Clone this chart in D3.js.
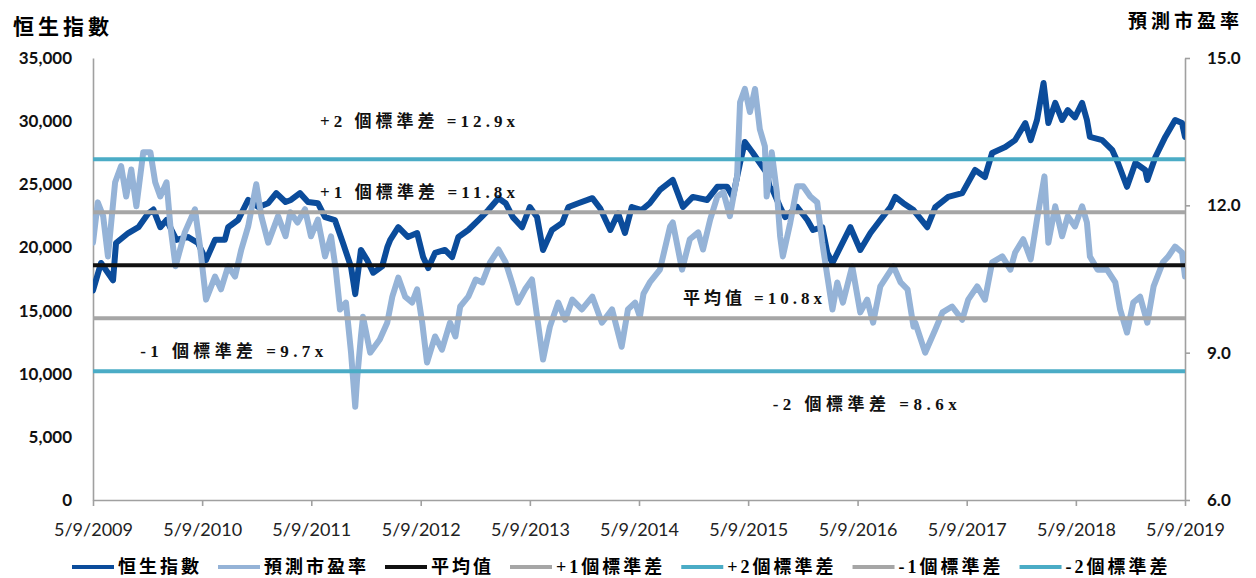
<!DOCTYPE html>
<html>
<head>
<meta charset="utf-8">
<script src="https://cdn.jsdelivr.net/npm/d3@7"></script>
<style>
  body { margin: 0; background: #fff; }
  svg { display: block; }
</style>
</head>
<body>
<svg id="chart"></svg>
<script>
// ---- data ----
var hsiSeries = [
  ["2009-05-09",16600],["2009-06-05",18770],["2009-07-15",17400],["2009-07-25",20350],
  ["2009-09-04",21140],["2009-10-08",21600],["2009-11-10",22700],["2009-11-27",23000],
  ["2009-12-20",21600],["2010-01-10",22170],["2010-02-12",20600],["2010-03-22",20830],
  ["2010-04-25",20350],["2010-05-22",19000],["2010-06-21",20600],["2010-07-24",20600],
  ["2010-08-04",21600],["2010-09-06",22170],["2010-10-10",23760],["2010-11-13",23200],
  ["2010-12-16",23500],["2011-01-12",24300],["2011-02-12",23600],["2011-03-02",23760],
  ["2011-04-01",24300],["2011-04-28",23600],["2011-05-31",23500],["2011-06-24",22400],
  ["2011-07-27",22170],["2011-08-23",20350],["2011-09-19",18450],["2011-10-03",16300],
  ["2011-10-22",19800],["2011-11-12",19000],["2011-12-02",18000],["2012-01-01",18500],
  ["2012-01-18",20000],["2012-01-28",20600],["2012-02-24",21600],["2012-03-27",20830],
  ["2012-04-27",21140],["2012-05-17",19240],["2012-06-03",18370],["2012-06-26",19560],
  ["2012-07-29",19800],["2012-08-22",19240],["2012-09-12",20830],["2012-10-15",21380],
  ["2012-11-18",22170],["2012-12-21",22960],["2013-01-24",23900],["2013-02-17",23500],
  ["2013-03-13",22400],["2013-04-13",21600],["2013-05-09",23200],["2013-06-02",22400],
  ["2013-06-22",19800],["2013-07-22",21380],["2013-08-25",21930],["2013-09-15",23200],
  ["2013-10-18",23500],["2013-12-04",23900],["2013-12-30",23100],["2014-02-02",21380],
  ["2014-02-28",22700],["2014-03-23",21140],["2014-04-15",23200],["2014-05-18",22960],
  ["2014-06-14",23500],["2014-07-18",24550],["2014-08-30",25340],["2014-10-03",23200],
  ["2014-11-05",24000],["2014-12-23",23760],["2015-01-26",24800],["2015-02-28",24800],
  ["2015-03-19",24000],["2015-04-12",26690],["2015-04-28",28350],["2015-05-25",27480],
  ["2015-06-17",26690],["2015-07-10",25900],["2015-07-20",24800],["2015-07-30",24550],
  ["2015-08-24",23200],["2015-09-10",22400],["2015-10-20",23200],["2015-11-23",22170],
  ["2015-12-12",21380],["2016-01-12",21600],["2016-01-29",19560],["2016-02-15",18770],
  ["2016-03-12",20000],["2016-04-15",21600],["2016-05-18",19800],["2016-06-21",21140],
  ["2016-07-24",22170],["2016-08-27",23200],["2016-09-12",24000],["2016-10-09",23500],
  ["2016-11-12",22960],["2016-12-28",21600],["2017-01-24",23200],["2017-03-08",24000],
  ["2017-04-24",24300],["2017-06-06",26130],["2017-07-09",25580],["2017-08-02",27480],
  ["2017-09-15",27950],["2017-10-18",28500],["2017-11-21",29850],["2017-12-09",28500],
  ["2017-12-30",30090],["2018-01-21",33020],["2018-02-06",29850],["2018-03-01",31440],
  ["2018-03-24",30090],["2018-04-12",30880],["2018-05-06",30300],["2018-05-30",31440],
  ["2018-06-15",30090],["2018-06-25",28750],["2018-08-05",28500],["2018-09-08",27700],
  ["2018-09-27",26690],["2018-10-27",24800],["2018-11-24",26690],["2018-12-27",26130],
  ["2019-01-03",25340],["2019-01-30",27160],["2019-03-04",28750],["2019-04-06",30090],
  ["2019-04-29",29850],["2019-05-09",28750]
];

var peSeries = [
  ["2009-05-09",11.24],["2009-05-25",12.06],["2009-06-12",11.78],["2009-06-28",10.96],
  ["2009-07-22",12.47],["2009-08-11",12.80],["2009-08-28",12.18],["2009-09-14",12.73],
  ["2009-10-01",11.98],["2009-10-24",13.08],["2009-11-17",13.08],["2009-12-03",12.47],
  ["2009-12-20",12.18],["2010-01-10",12.47],["2010-01-23",11.57],["2010-02-09",10.76],
  ["2010-03-12",11.45],["2010-04-15",11.92],["2010-05-02",11.16],["2010-05-22",10.08],
  ["2010-06-21",10.55],["2010-07-11",10.29],["2010-08-04",10.76],["2010-08-27",10.55],
  ["2010-09-17",11.10],["2010-10-10",11.57],["2010-11-06",12.43],["2010-11-23",11.78],
  ["2010-12-16",11.24],["2011-01-18",11.78],["2011-02-12",11.37],["2011-02-28",11.86],
  ["2011-03-24",11.65],["2011-04-18",11.92],["2011-05-08",11.37],["2011-05-31",11.71],
  ["2011-06-24",10.96],["2011-07-14",11.37],["2011-07-30",10.69],["2011-08-13",9.88],
  ["2011-09-02",10.02],["2011-09-19",9.00],["2011-10-03",7.90],["2011-10-09",8.45],
  ["2011-10-22",9.33],["2011-10-29",9.73],["2011-11-22",9.00],["2011-12-24",9.27],
  ["2012-01-18",9.61],["2012-02-04",10.14],["2012-02-24",10.53],["2012-03-18",10.14],
  ["2012-04-10",10.02],["2012-04-27",10.29],["2012-05-14",9.61],["2012-05-30",8.80],
  ["2012-06-26",9.33],["2012-07-19",9.06],["2012-08-15",9.61],["2012-09-02",9.33],
  ["2012-09-18",9.94],["2012-10-15",10.14],["2012-11-09",10.49],["2012-12-01",10.43],
  ["2012-12-27",10.84],["2013-01-24",11.10],["2013-02-17",10.84],["2013-03-10",10.43],
  ["2013-03-30",10.02],["2013-04-23",10.29],["2013-05-16",10.49],["2013-06-05",9.61],
  ["2013-06-22",8.86],["2013-07-15",9.53],["2013-08-12",10.02],["2013-09-04",9.67],
  ["2013-09-28",10.08],["2013-10-30",9.88],["2013-12-04",10.14],["2014-01-05",9.61],
  ["2014-02-08",9.88],["2014-03-12",9.12],["2014-04-02",9.88],["2014-04-26",10.02],
  ["2014-05-12",9.73],["2014-05-24",10.20],["2014-06-14",10.43],["2014-07-18",10.69],
  ["2014-08-21",11.57],["2014-08-30",11.65],["2014-09-30",10.69],["2014-10-26",11.31],
  ["2014-11-23",11.45],["2014-12-09",11.10],["2015-01-02",11.71],["2015-01-26",12.18],
  ["2015-02-15",12.27],["2015-03-09",11.78],["2015-04-02",12.59],["2015-04-12",14.10],
  ["2015-04-28",14.37],["2015-05-15",13.90],["2015-06-01",14.37],["2015-06-17",13.55],
  ["2015-07-04",13.20],["2015-07-10",12.18],["2015-07-27",13.08],["2015-08-13",12.27],
  ["2015-08-24",11.37],["2015-09-02",10.96],["2015-09-27",11.65],["2015-10-20",12.39],
  ["2015-11-09",12.39],["2015-12-03",12.18],["2015-12-26",12.06],["2016-01-12",11.24],
  ["2016-01-29",10.55],["2016-02-15",9.88],["2016-03-02",10.43],["2016-03-21",10.02],
  ["2016-04-21",10.76],["2016-05-18",9.82],["2016-06-10",10.08],["2016-06-30",9.61],
  ["2016-07-24",10.35],["2016-09-06",10.76],["2016-09-30",10.43],["2016-10-23",10.29],
  ["2016-11-12",9.53],["2016-11-18",9.61],["2016-12-21",9.00],["2017-01-24",9.47],
  ["2017-02-17",9.82],["2017-03-21",9.94],["2017-04-24",9.67],["2017-05-14",10.08],
  ["2017-06-13",10.35],["2017-07-09",10.08],["2017-08-02",10.84],["2017-09-05",10.96],
  ["2017-10-02",10.69],["2017-10-18",11.04],["2017-11-14",11.31],["2017-12-09",10.90],
  ["2017-12-30",11.71],["2018-01-24",12.59],["2018-02-06",11.24],["2018-03-01",11.98],
  ["2018-03-24",11.37],["2018-04-12",11.78],["2018-05-06",11.57],["2018-05-30",11.98],
  ["2018-06-15",11.65],["2018-06-25",10.96],["2018-07-21",10.69],["2018-08-21",10.69],
  ["2018-09-18",10.43],["2018-10-04",9.88],["2018-10-27",9.41],["2018-11-17",10.02],
  ["2018-12-10",10.14],["2019-01-03",9.61],["2019-01-24",10.35],["2019-02-24",10.84],
  ["2019-03-14",10.96],["2019-04-06",11.16],["2019-04-29",11.04],["2019-05-09",10.55]
];

// mean and standard deviation bands (forward P/E)
var bandNames  = ["平均值", "+1個標準差", "+2個標準差", "-1個標準差", "-2個標準差"];
var bandValues = [10.78, 11.86, 12.94, 9.70, 8.62];
var bandLabels = ["平均值 =10.8x", "+1 個標準差 =11.8x", "+2 個標準差 =12.9x", "-1 個標準差 =9.7x", "-2 個標準差 =8.6x"];

var xTickLabels = ["5/9/2009","5/9/2010","5/9/2011","5/9/2012","5/9/2013","5/9/2014",
                   "5/9/2015","5/9/2016","5/9/2017","5/9/2018","5/9/2019"];
var leftTicks  = [0, 5000, 10000, 15000, 20000, 25000, 30000, 35000];
var rightTicks = [6, 9, 12, 15];

// ---- layout / styles ----
var W = 1256, H = 578;
var plot = { left: 93, right: 1185, top: 58, bottom: 500 };
var colors = {
  hsi: "#0b4c9b", pe: "#95b3d7", mean: "#111111",
  sd1: "#a6a6a6", sd2: "#4bacc6", axis: "#a0a0a0"
};
var bandColors = [colors.mean, colors.sd1, colors.sd2, colors.sd1, colors.sd2];
// where each band label sits (date, P/E level) and how wide it is drawn
var labelAnchors = [["2014-10-03", 10.10], ["2011-06-07", 12.27], ["2011-06-07", 13.71],
                    ["2009-10-14", 9.02], ["2015-07-30", 7.94]];
var labelWidths  = [139, 195, 195, 183, 184];

var cjkFont = "'Noto Sans CJK TC', 'Noto Sans CJK SC', sans-serif";
var annFont = "'Liberation Serif', 'Noto Sans CJK TC', serif";
var numFont = "Lato, 'Open Sans', sans-serif";

var parseDate = d3.timeParse("%Y-%m-%d");
var parseTick = d3.timeParse("%m/%d/%Y");

var svg = d3.select("#chart").attr("width", W).attr("height", H);

// scales
var x = d3.scaleTime()
    .domain([parseTick(xTickLabels[0]), parseTick(xTickLabels[xTickLabels.length - 1])])
    .range([plot.left, plot.right]);
var yLeft = d3.scaleLinear().domain([0, 35000]).range([plot.bottom, plot.top]);
var yRight = d3.scaleLinear().domain([6, 15]).range([plot.bottom, plot.top]);

// ---- axes ----
var leftAxis = svg.append("g")
    .attr("transform", "translate(" + plot.left + ",0)")
    .call(d3.axisLeft(yLeft).tickValues(leftTicks).tickSize(0).tickPadding(21)
          .tickFormat(d3.format(",")));
leftAxis.selectAll("text").style("font-family", numFont).style("font-weight", 700)
    .style("font-size", "17px").attr("fill", "#111");

var rightAxis = svg.append("g")
    .attr("transform", "translate(" + plot.right + ",0)")
    .call(d3.axisRight(yRight).tickValues(rightTicks).tickSize(5).tickSizeOuter(0).tickPadding(17)
          .tickFormat(d3.format(".1f")));
rightAxis.selectAll("text").style("font-family", numFont).style("font-weight", 700)
    .style("font-size", "17px").attr("fill", "#111");

var bottomAxis = svg.append("g")
    .attr("transform", "translate(0," + plot.bottom + ")")
    .call(d3.axisBottom(x).tickValues(xTickLabels.map(parseTick)).tickSize(6).tickSizeOuter(0)
          .tickPadding(17).tickFormat(function(d, i) { return xTickLabels[i]; }));
bottomAxis.selectAll("text").style("font-family", numFont)
    .style("font-size", "18px").attr("fill", "#222");

svg.selectAll(".domain, .tick line")
    .attr("stroke", colors.axis).attr("stroke-width", 1.6);

// ---- series ----
svg.append("clipPath").attr("id", "plot-clip")
  .append("rect")
    .attr("x", plot.left).attr("y", plot.top - 10)
    .attr("width", plot.right - plot.left).attr("height", plot.bottom - plot.top + 10);

var lines = svg.append("g").attr("clip-path", "url(#plot-clip)");

var hsiLine = d3.line()
    .x(function(d) { return x(parseDate(d[0])); })
    .y(function(d) { return yLeft(d[1]); });
var peLine = d3.line()
    .x(function(d) { return x(parseDate(d[0])); })
    .y(function(d) { return yRight(d[1]); });

lines.append("path").datum(hsiSeries)
    .attr("d", hsiLine).attr("fill", "none")
    .attr("stroke", colors.hsi).attr("stroke-width", 6)
    .attr("stroke-linejoin", "round").attr("stroke-linecap", "round");

lines.append("path").datum(peSeries)
    .attr("d", peLine).attr("fill", "none")
    .attr("stroke", colors.pe).attr("stroke-width", 6)
    .attr("stroke-linejoin", "round").attr("stroke-linecap", "round");

// band lines on top
lines.selectAll(".band")
    .data(bandValues)
    .enter().append("line")
    .attr("class", "band")
    .attr("x1", plot.left).attr("x2", plot.right)
    .attr("y1", function(d) { return yRight(d); })
    .attr("y2", function(d) { return yRight(d); })
    .attr("stroke", function(d, i) { return bandColors[i]; })
    .attr("stroke-width", 4);

// band annotations
svg.selectAll(".band-label")
    .data(bandLabels)
    .enter().append("text")
    .attr("class", "band-label")
    .attr("x", function(d, i) { return x(parseDate(labelAnchors[i][0])); })
    .attr("y", function(d, i) { return yRight(labelAnchors[i][1]); })
    .attr("dominant-baseline", "central")
    .attr("textLength", function(d, i) { return labelWidths[i]; })
    .attr("lengthAdjust", "spacing")
    .style("font-family", annFont)
    .style("font-weight", 700)
    .style("font-size", "17px")
    .attr("fill", "#111")
    .text(function(d) { return d; });

// ---- titles ----
svg.append("text")
    .attr("x", 13).attr("y", 25).attr("dominant-baseline", "central")
    .style("letter-spacing", "4px")
    .style("font-family", cjkFont).style("font-weight", 700).style("font-size", "21px")
    .text("恒生指數");

svg.append("text")
    .attr("x", 1128).attr("y", 19).attr("dominant-baseline", "central")
    .style("letter-spacing", "4px")
    .style("font-family", cjkFont).style("font-weight", 700).style("font-size", "19px")
    .text("預測市盈率");

// ---- legend ----
var legendNames = ["恒生指數", "預測市盈率"].concat(bandNames);
var legendColors = [colors.hsi, colors.pe].concat(bandColors);
var legendY = 567;
var lx = 72;
legendNames.forEach(function(name, i) {
    svg.append("line")
        .attr("x1", lx).attr("x2", lx + 42)
        .attr("y1", legendY).attr("y2", legendY)
        .attr("stroke", legendColors[i]).attr("stroke-width", 4);
    var t = svg.append("text")
        .attr("x", lx + 46).attr("y", legendY).attr("dominant-baseline", "central")
        .style("letter-spacing", "3px")
        .style("font-family", annFont)
        .style("font-weight", 700).style("font-size", "18px")
        .text(name);
    lx += 46 + t.node().getComputedTextLength() + 16;
});
</script>
</body>
</html>
